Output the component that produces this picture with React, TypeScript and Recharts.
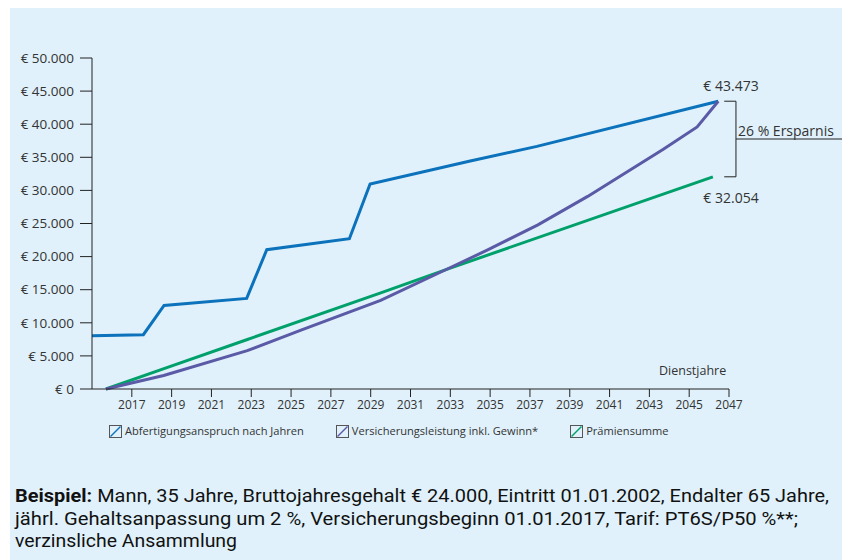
import React from "react";
import { LineChart, Line, XAxis, YAxis, ReferenceLine } from "recharts";

// Abfertigungsanspruch nach Jahren
const abfYears = [2015.0, 2017.58, 2018.62, 2022.77, 2023.78, 2027.93, 2028.97, 2034.0, 2037.35, 2046.46];
const abfValues = [8050, 8200, 12630, 13686, 21043, 22705, 30967, 34450, 36648, 43473];

// Versicherungsleistung inkl. Gewinn*
const versYears = [2015.7, 2018.6, 2022.8, 2025.5, 2029.5, 2032.9, 2034.8, 2037.4, 2039.9, 2043.7, 2045.4, 2046.46];
const versValues = [0, 2050, 5800, 8900, 13400, 18200, 20900, 24800, 29090, 36200, 39580, 43473];

// Prämiensumme
const praemYears = [2015.7, 2018.58, 2022.77, 2029.47, 2032.89, 2046.19];
const praemValues = [0, 3050, 7440, 14480, 18150, 32054];

const xTicks = [2017, 2019, 2021, 2023, 2025, 2027, 2029, 2031, 2033, 2035, 2037, 2039, 2041, 2043, 2045, 2047];
const yTicks = [0, 5000, 10000, 15000, 20000, 25000, 30000, 35000, 40000, 45000, 50000];

const endHigh = 43473;
const endLow = 32054;
const savingsLabel = "26 % Ersparnis";
const axisTitle = "Dienstjahre";

const seriesNames = ["Abfertigungsanspruch nach Jahren", "Versicherungsleistung inkl. Gewinn*", "Prämiensumme"];
const seriesColors = ["#0b72bb", "#5a5aa6", "#00a06b"];

const noteLines = [
  ["Beispiel:", " Mann, 35 Jahre, Bruttojahresgehalt € 24.000, Eintritt 01.01.2002, Endalter 65 Jahre,"],
  ["", "jährl. Gehaltsanpassung um 2 %, Versicherungsbeginn 01.01.2017, Tarif: PT6S/P50 %**;"],
  ["", "verzinsliche Ansammlung"],
];

const toData = (xs: number[], vs: number[]) => xs.map((x, i) => ({ x, v: vs[i] }));
const abfData = toData(abfYears, abfValues);
const versData = toData(versYears, versValues);
const praemData = toData(praemYears, praemValues);

const fmt = (v: number) => String(v).replace(/\B(?=(\d{3})+(?!\d))/g, ".");
const euro = (v: number) => "€ " + fmt(v);

const FONT = "'Open Sans', 'Noto Sans', sans-serif";
const TXT = "#333";

const bracketL = 2046.76;
const bracketR = 2047.35;
const bracketMid = (endHigh + endLow) / 2;

export default function App() {
  return (
    <div style={{ position: "relative", width: 842, height: 560, background: "#fff", overflow: "hidden", fontFamily: FONT }}>
      <style>{`body{margin:0}`}</style>
      <div style={{ position: "absolute", left: 10, top: 8, width: 832, height: 552, background: "#e0f1fb" }} />
      <div style={{ position: "absolute", left: 0, top: 0 }}>
        <LineChart width={842} height={560} margin={{ top: 58, right: 113, bottom: 141, left: 0 }}>
          <XAxis
            type="number"
            dataKey="x"
            domain={[2015, 2047]}
            ticks={xTicks}
            allowDuplicatedCategory={false}
            height={30}
            tickSize={8}
            tickMargin={3}
            axisLine={{ stroke: "#222", strokeWidth: 1 }}
            tickLine={{ stroke: "#222", strokeWidth: 1 }}
            tick={{ fill: TXT, fontSize: 12, fontFamily: FONT }}
          />
          <YAxis
            type="number"
            domain={[0, 50000]}
            ticks={yTicks}
            width={92}
            tickSize={12}
            tickMargin={6}
            tickFormatter={euro}
            axisLine={{ stroke: "#222", strokeWidth: 1 }}
            tickLine={{ stroke: "#222", strokeWidth: 1 }}
            tick={{ fill: TXT, fontSize: 13.5, fontFamily: FONT }}
          />
          <Line data={abfData} dataKey="v" type="linear" stroke={seriesColors[0]} strokeWidth={3} dot={false} isAnimationActive={false} />
          <Line data={praemData} dataKey="v" type="linear" stroke={seriesColors[2]} strokeWidth={3} dot={false} isAnimationActive={false} />
          <Line data={versData} dataKey="v" type="linear" stroke={seriesColors[1]} strokeWidth={3} dot={false} isAnimationActive={false} />
          <ReferenceLine segment={[{ x: bracketL, y: endHigh }, { x: bracketR, y: endHigh }]} stroke="#222" strokeWidth={1} ifOverflow="visible" />
          <ReferenceLine segment={[{ x: bracketL, y: endLow }, { x: bracketR, y: endLow }]} stroke="#222" strokeWidth={1} ifOverflow="visible" />
          <ReferenceLine segment={[{ x: bracketR, y: endHigh }, { x: bracketR, y: endLow }]} stroke="#222" strokeWidth={1} ifOverflow="visible" />
          <ReferenceLine segment={[{ x: bracketR, y: bracketMid }, { x: 2053.5, y: bracketMid }]} stroke="#222" strokeWidth={1} ifOverflow="visible" />
        </LineChart>
      </div>
      <svg width={842} height={560} style={{ position: "absolute", left: 0, top: 0, pointerEvents: "none" }}>
        <text x={731} y={91} textAnchor="middle" fill={TXT} fontSize={14} fontFamily={FONT}>{euro(endHigh)}</text>
        <text x={731} y={203} textAnchor="middle" fill={TXT} fontSize={14} fontFamily={FONT}>{euro(endLow)}</text>
        <text x={738} y={136} fill={TXT} fontSize={14} fontFamily={FONT}>{savingsLabel}</text>
        <text x={659} y={375} fill={TXT} fontSize={12.5} fontFamily={FONT}>{axisTitle}</text>
        {noteLines.map((ln, i) => (
          <text
            key={i}
            x={15}
            y={502 + i * 22.5}
            fill="#111"
            fontSize={18.5}
            fontFamily="Roboto, sans-serif"
            textLength={i === 0 ? 814 : i === 1 ? 783 : 222}
            lengthAdjust="spacingAndGlyphs"
          >
            {ln[0] ? <tspan fontWeight="bold">{ln[0]}</tspan> : null}
            {ln[1]}
          </text>
        ))}
      </svg>
      <div style={{ position: "absolute", left: 109, top: 424, display: "flex", gap: 32, alignItems: "center", fontSize: 11.1, color: TXT, whiteSpace: "nowrap", lineHeight: "14px" }}>
        {seriesNames.map((n, i) => (
          <div key={n} style={{ display: "flex", alignItems: "center", gap: 3 }}>
            <svg width={13} height={13}>
              <rect x={0.5} y={0.5} width={12} height={12} fill="none" stroke="#555" strokeWidth={1} />
              <line x1={1.5} y1={11.5} x2={11.5} y2={1.5} stroke={seriesColors[i]} strokeWidth={1.5} />
            </svg>
            <span>{n}</span>
          </div>
        ))}
      </div>
    </div>
  );
}
